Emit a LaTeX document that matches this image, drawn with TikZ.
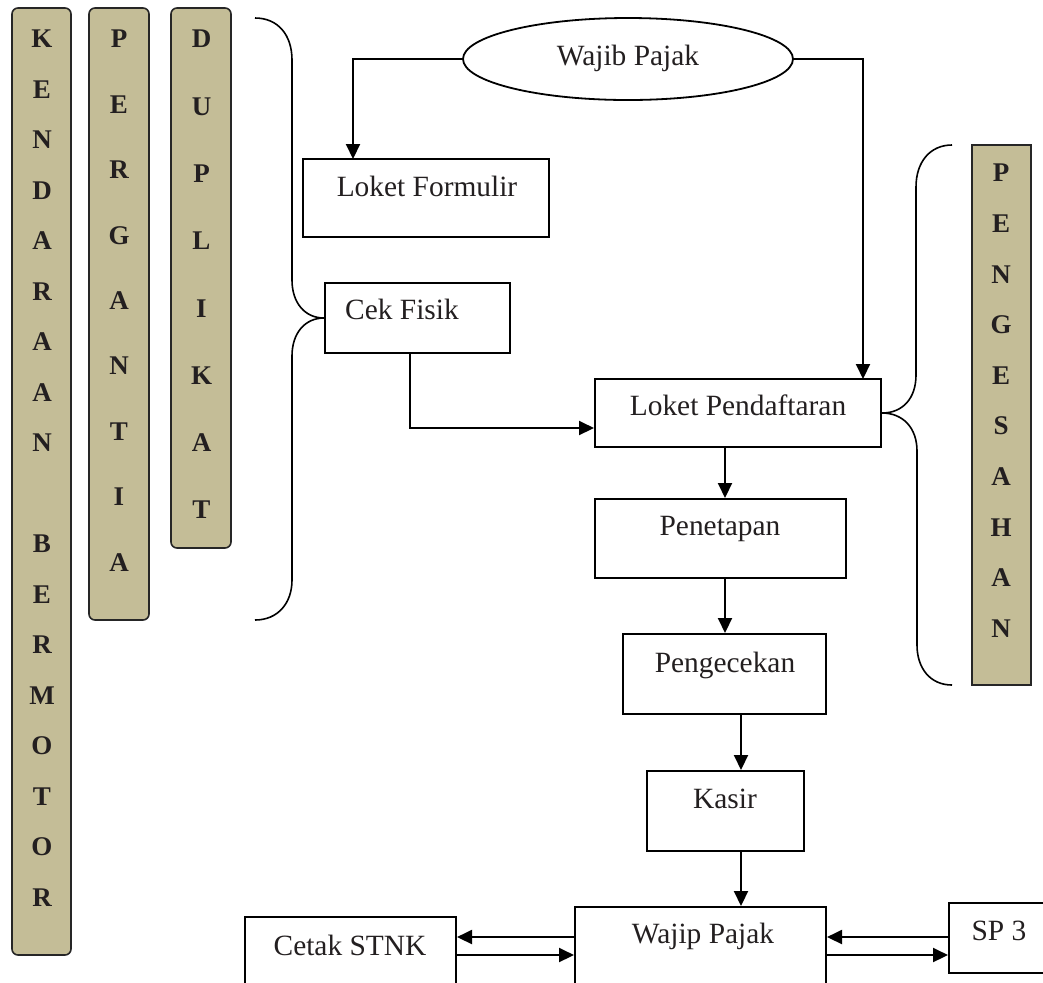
\documentclass[tikz,border=0pt]{standalone}
\usepackage{fontspec}
\setmainfont{Liberation Serif}
\usetikzlibrary{arrows.meta,shapes.geometric}
\definecolor{tan}{HTML}{C4BD97}
\definecolor{ink}{HTML}{231F20}
\begin{document}
\begin{tikzpicture}[x=0.5pt,y=-0.5pt,
  box/.style={draw=black, line width=1pt, rectangle, inner sep=0pt},
  lbl/.style={font=\fontsize{14.7}{17}\selectfont, text=ink, anchor=base, inner sep=0pt},
  bar/.style={draw=black!85, fill=tan, line width=0.8pt, rectangle, inner sep=0pt},
  letter/.style={font=\bfseries\fontsize{13.5}{16}\selectfont, text=ink, inner sep=0pt},
  flow/.style={-{Triangle[length=7.5pt,width=7pt]}, line width=1pt},
  brace/.style={line width=0.8pt}]
\useasboundingbox (0,0) rectangle (1043,982);
\clip (0,0) rectangle (1043,982);

% vertical category bars
\node[bar, rounded corners=3pt, minimum width=29.5pt, minimum height=473.5pt] (kb) at (41.5,481.5) {};
\node[bar, rounded corners=3pt, minimum width=30pt, minimum height=306pt] (pg) at (119,314) {};
\node[bar, rounded corners=3pt, minimum width=30pt, minimum height=270pt] (du) at (201,278) {};
\node[bar, line width=1pt, minimum width=29.5pt, minimum height=270pt] (ps) at (1001.5,415) {};

\foreach \ch [count=\i from 0] in {K,E,N,D,A,R,A,A,N,{},B,E,R,M,O,T,O,R}
  \node[letter] (kb\i) at (42,39+50.5*\i) {\ch};
\foreach \ch [count=\i from 0] in {P,E,R,G,A,N,T,I,A}
  \node[letter] (pg\i) at (119,39+65.4*\i) {\ch};
\foreach \ch [count=\i from 0] in {D,U,P,L,I,K,A,T}
  \node[letter] (du\i) at (201.5,39+67.3*\i) {\ch};
\foreach \ch [count=\i from 0] in {P,E,N,G,E,S,A,H,A,N}
  \node[letter] (ps\i) at (1001,173+50.6*\i) {\ch};

% process boxes
\node[draw=black, line width=0.9pt, ellipse, minimum width=165pt, minimum height=41pt, inner sep=0pt] (wp) at (628,59) {};
\node[box, minimum width=123pt, minimum height=39pt] (lf) at (426,198) {};
\node[box, minimum width=92.5pt, minimum height=35pt] (cf) at (417.5,318) {};
\node[box, minimum width=143pt, minimum height=34pt] (lp) at (738,413) {};
\node[box, minimum width=125.5pt, minimum height=39.5pt] (pen) at (720.5,538.5) {};
\node[box, minimum width=101.5pt, minimum height=40pt] (pgc) at (724.5,674) {};
\node[box, minimum width=78.5pt, minimum height=40pt] (kas) at (725.5,811) {};
\node[box, minimum width=125.5pt, minimum height=46.5pt] (wj) at (700.5,953.5) {};
\node[box, minimum width=105.5pt, minimum height=41.5pt] (cs) at (350.5,958.5) {};
\node[box, minimum width=55.5pt, minimum height=35pt] (sp) at (1004.5,938) {};

% box texts
\node[lbl] (wpt) at (628,65) {Wajib Pajak};
\node[lbl] (lft) at (427,196) {Loket Formulir};
\node[lbl] (cft) at (402,319) {Cek Fisik};
\node[lbl] (lpt) at (738,415) {Loket Pendaftaran};
\node[lbl] (pent) at (720,535) {Penetapan};
\node[lbl] (pgct) at (725,672) {Pengecekan};
\node[lbl] (kast) at (725,808) {Kasir};
\node[lbl] (wjt) at (703,943) {Wajip Pajak};
\node[lbl] (cst) at (350,955) {Cetak STNK};
\node[lbl] (spt) at (999,940) {SP 3};

% connector guide points
\coordinate (lfin) at (353,159);
\coordinate (lpin) at (863,379);
\coordinate (cfout) at (410,353);
\coordinate (cfbend) at (410,428);
\coordinate (c1) at (725,0);
\coordinate (c2) at (741,0);
\coordinate (r1) at (0,937);
\coordinate (r2) at (0,955);

% connectors
\draw[flow] (wp.west) -| (lfin);
\draw[flow] (wp.east) -| (lpin);
\draw[flow] (cfout) |- (lp.west |- cfbend);
\draw[flow] (lp.south -| c1) -- (pen.north -| c1);
\draw[flow] (pen.south -| c1) -- (pgc.north -| c1);
\draw[flow] (pgc.south -| c2) -- (kas.north -| c2);
\draw[flow] (kas.south -| c2) -- (wj.north -| c2);
\draw[flow] (wj.west |- r1) -- (cs.east |- r1);
\draw[flow] (cs.east |- r2) -- (wj.west |- r2);
\draw[flow] (sp.west |- r1) -- (wj.east |- r1);
\draw[flow] (wj.east |- r2) -- (sp.west |- r2);

% grouping braces
\draw[brace] (255,18) .. controls (278,18) and (292,35) .. (292,60) -- (292,280)
  .. controls (292,303) and (305,318) .. (cf.west)
  .. controls (305,318) and (292,333) .. (292,356) -- (292,580)
  .. controls (292,603) and (278,620) .. (255,620);
\draw[brace] (952,145) .. controls (930,145) and (916,162) .. (916,187) -- (916,375)
  .. controls (916,398) and (903,413) .. (lp.east)
  .. controls (903,413) and (917,428) .. (917,451) -- (917,645)
  .. controls (917,668) and (930,685) .. (952,685);
\end{tikzpicture}
\end{document}
